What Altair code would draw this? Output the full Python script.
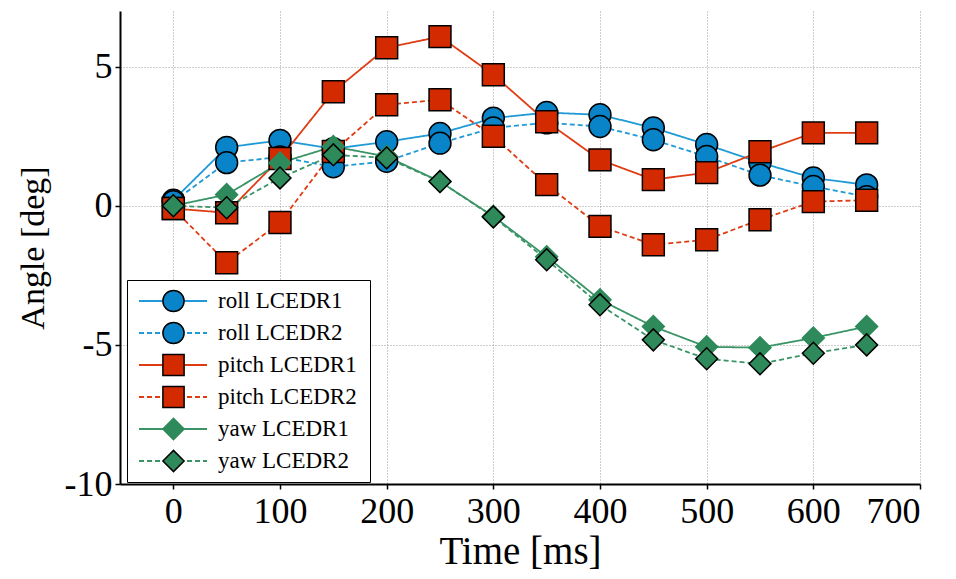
import altair as alt
import pandas as pd

times = [0, 50, 100, 150, 200, 250, 300, 350, 400, 450, 500, 550, 600, 650]

roll_1 = [0.2, 2.1, 2.35, 2.05, 2.3, 2.6, 3.15, 3.35, 3.27, 2.8, 2.2, 1.55, 1.0, 0.75]
roll_2 = [0.15, 1.55, 1.75, 1.4, 1.6, 2.25, 2.8, 2.98, 2.85, 2.37, 1.77, 1.1, 0.69, 0.33]
pitch_1 = [-0.1, -0.25, 1.7, 4.1, 5.68, 6.08, 4.71, 3.02, 1.65, 0.94, 1.19, 1.94, 2.62, 2.62]
pitch_2 = [-0.1, -2.05, -0.6, 1.95, 3.63, 3.81, 2.5, 0.76, -0.74, -1.4, -1.22, -0.5, 0.15, 0.2]
yaw_1 = [0.0, 0.4, 1.54, 2.13, 1.77, 0.87, -0.38, -1.83, -3.38, -4.34, -5.07, -5.1, -4.75, -4.34]
yaw_2 = [0.0, -0.07, 1.0, 1.83, 1.72, 0.87, -0.4, -1.94, -3.56, -4.82, -5.5, -5.68, -5.3, -5.0]

series_names = ["roll LCEDR1", "roll LCEDR2", "pitch LCEDR1", "pitch LCEDR2", "yaw LCEDR1", "yaw LCEDR2"]
series_values = [roll_1, roll_2, pitch_1, pitch_2, yaw_1, yaw_2]

colors = ["#0a84c8", "#0a84c8", "#d42a00", "#d42a00", "#2e8a5a", "#2e8a5a"]
outline_colors = ["black", "black", "black", "black", "#2e8a5a", "black"]
line_colors = ["#1f9ad6", "#1f9ad6", "#e03c14", "#e03c14", "#3a9466", "#3a9466"]
shapes = ["circle", "circle", "square", "square", "diamond", "diamond"]
marker_sizes = [480, 480, 420, 420, 620, 620]
dashes = [[1, 0], [5, 3], [1, 0], [5, 3], [1, 0], [5, 3]]

x_ticks = [0, 100, 200, 300, 400, 500, 600, 700]
y_ticks = [-10, -5, 0, 5]

rows = []
for name, vals in zip(series_names, series_values):
    for t, v in zip(times, vals):
        rows.append({"time": t, "angle": v, "series": name, "line_series": name,
                     "dash_series": name, "marker": name})
df = pd.DataFrame(rows)

FONT = "Liberation Serif"
LEG_FONT_SIZE = 23

x_enc = alt.X(
    "time:Q",
    scale=alt.Scale(domain=[-50, 700], nice=False, zero=False),
    axis=alt.Axis(
        values=x_ticks, title="Time [ms]", grid=True,
        labelFontSize=36, titleFontSize=39, labelFont=FONT, titleFont=FONT,
        titleFontWeight="normal", labelPadding=5, titlePadding=3,
        tickSize=5, domainWidth=2, tickWidth=1.5,
    ),
)
y_enc = alt.Y(
    "angle:Q",
    scale=alt.Scale(domain=[-10, 7], nice=False, zero=False),
    axis=alt.Axis(
        values=y_ticks, title="Angle [deg]", grid=True,
        labelExpr="'' + datum.value",
        labelFontSize=36, titleFontSize=34, labelFont=FONT, titleFont=FONT,
        titleFontWeight="normal", labelPadding=3, titlePadding=14,
        tickSize=5, domainWidth=2, tickWidth=1.5,
    ),
)

# legend drawing the line samples (no labels), underneath the marker legend
legend_lines = alt.Legend(
    title=None,
    orient="none",
    legendX=7,
    legendY=269,
    fillColor="white",
    strokeColor="black",
    padding=9,
    labelFont=FONT,
    labelFontSize=LEG_FONT_SIZE,
    labelExpr="''",
    symbolType="stroke",
    symbolSize=4624,
    symbolStrokeWidth=1.8,
    symbolOffset=2,
    labelOffset=153,
    rowPadding=8,
    clipHeight=24,
    cornerRadius=0,
    zindex=0,
    symbolDash=alt.ExprRef(expr="indexof(datum.label, 'LCEDR2') >= 0 ? [5, 3] : [1, 0]"),
)

legend_markers = alt.Legend(
    title=None,
    orient="none",
    legendX=7,
    legendY=269,
    padding=9,
    labelFont=FONT,
    labelFontSize=LEG_FONT_SIZE,
    labelColor="black",
    symbolSize=450,
    symbolStrokeWidth=1.5,
    symbolOffset=26,
    labelOffset=33,
    rowPadding=8,
    clipHeight=24,
    cornerRadius=0,
    zindex=1,
)

lines = alt.Chart(df).mark_line(strokeWidth=1.8).encode(
    x=x_enc,
    y=y_enc,
    color=alt.Color("line_series:N", sort=series_names, scale=alt.Scale(range=line_colors), legend=legend_lines),
    strokeDash=alt.StrokeDash("dash_series:N", sort=series_names, scale=alt.Scale(range=dashes), legend=None),
    detail="line_series:N",
)

points = alt.Chart(df).mark_point(filled=True, opacity=1, strokeWidth=1.5).encode(
    x=alt.X("time:Q"),
    y=alt.Y("angle:Q"),
    fill=alt.Fill("series:N", scale=alt.Scale(domain=series_names, range=colors), legend=legend_markers),
    stroke=alt.Stroke("series:N", scale=alt.Scale(domain=series_names, range=outline_colors), legend=legend_markers),
    shape=alt.Shape("series:N", scale=alt.Scale(domain=series_names, range=shapes), legend=legend_markers),
    size=alt.Size("marker:N", sort=series_names, scale=alt.Scale(range=marker_sizes), legend=None),
)

chart = (
    alt.layer(lines, points)
    .properties(
        width=800,
        height=473,
        autosize="none",
        padding={"left": 112, "top": 3, "right": 28, "bottom": 87},
    )
    .configure_view(stroke=None)
    .configure_axis(
        gridColor="#9a9a9a", gridDash=[1, 2], gridWidth=1,
        domainColor="black", tickColor="black", labelColor="black", titleColor="black",
    )
)

chart.save("out.html", embed_options={"renderer": "svg", "actions": False})
